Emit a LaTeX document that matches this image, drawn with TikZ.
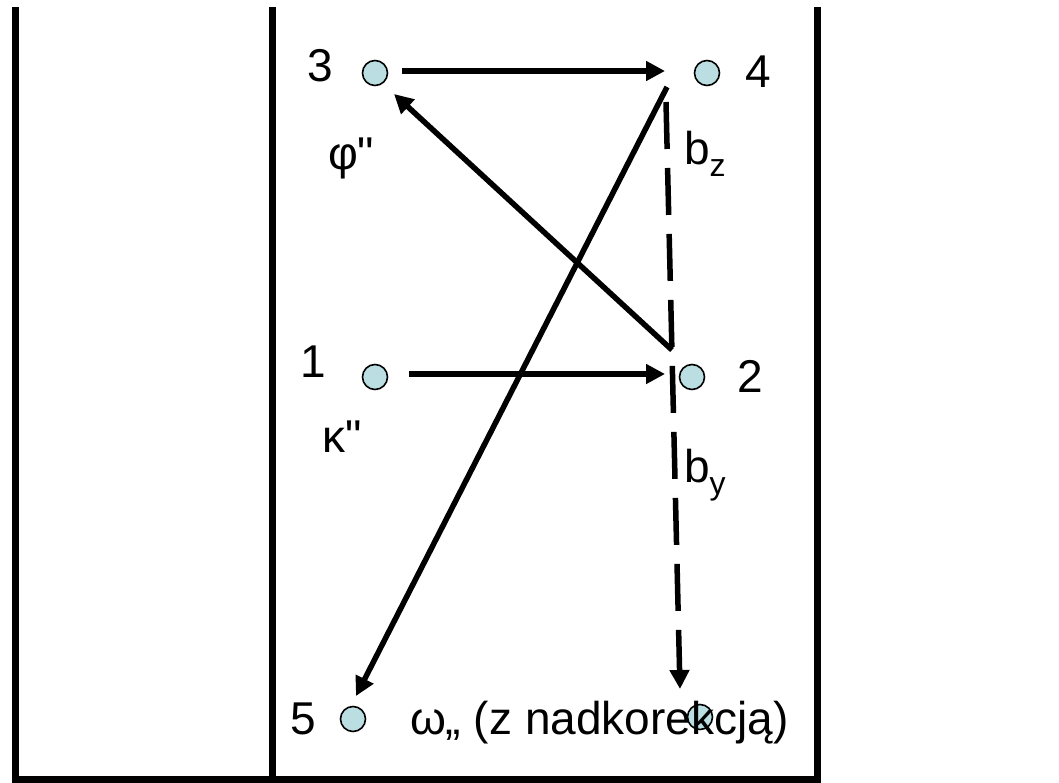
\documentclass[tikz,border=0pt]{standalone}
\usepackage{fontspec}
\setmainfont{Liberation Sans}[Ligatures=TeXOff]
\usetikzlibrary{arrows.meta}
\definecolor{dotfill}{RGB}{186,222,226}
\tikzset{
  dot/.style={circle,draw=black,line width=1.6pt,fill=dotfill,minimum size=25pt,inner sep=0pt,outer sep=0pt},
  lbl/.style={font=\fontsize{46}{55}\selectfont,inner sep=0pt,outer sep=0pt,anchor=base west},
  arr/.style={line width=5.5pt,-{Triangle[length=19pt,width=19pt]}},
  darr/.style={arr,dash pattern=on 47pt off 19pt},
  frame/.style={line width=7.5pt,line join=miter}
}
\newcommand{\subz}[1]{\raisebox{-12pt}{\fontsize{32}{36}\selectfont #1}}
\begin{document}
\begin{tikzpicture}[x=1pt,y=-1pt]
\useasboundingbox (0,0) rectangle (1059,783);
% frame
\draw[frame] (15.5,7) -- (15.5,780) -- (817.5,780) -- (817.5,7);
\draw[frame] (272.5,7) -- (272.5,780);
% dots
\node[dot] (n3) at (375,73) {};
\node[dot] (n4) at (707,73) {};
\node[dot] (n1) at (375,377) {};
\node[dot] (n2) at (692,377) {};
\node[dot] (n5) at (353,719) {};
\node[dot] (n6) at (700,717) {};
% labels
\node[lbl] (l3) at (307,82) {3};
\node[lbl] (l4) at (745,88) {4};
\node[lbl] (l1) at (300,377) {1};
\node[lbl] (l2) at (737,392) {2};
\node[lbl] (l5) at (290,734) {5};
\node[lbl] (phi) at (328,170) {φ"};
\node[lbl] (kap) at (322,452) {κ"};
\node[lbl] (bz) at (684,165) {b\subz{z}};
\node[lbl] (by) at (684,482) {b\subz{y}};
\node[lbl] (om) at (410,734) {ω„ (z nadkorekcją)};
% arrow end points
\coordinate (a34s) at (402,71);
\coordinate (a34e) at (665,71);
\coordinate (a12s) at (409,374);
\coordinate (a12e) at (665,374);
\coordinate (a23s) at (672,350);
\coordinate (a23e) at (394,94);
\coordinate (a45s) at (667,87);
\coordinate (a45e) at (356,696);
\coordinate (a46s) at (666,102);
\coordinate (a46e) at (680,689);
% connectors
\draw[arr] (a34s) -- (a34e);
\draw[arr] (a12s) -- (a12e);
\draw[arr] (a23s) -- (a23e);
\draw[arr] (a45s) -- (a45e);
\draw[darr] (a46s) -- (a46e);
\end{tikzpicture}
\end{document}
